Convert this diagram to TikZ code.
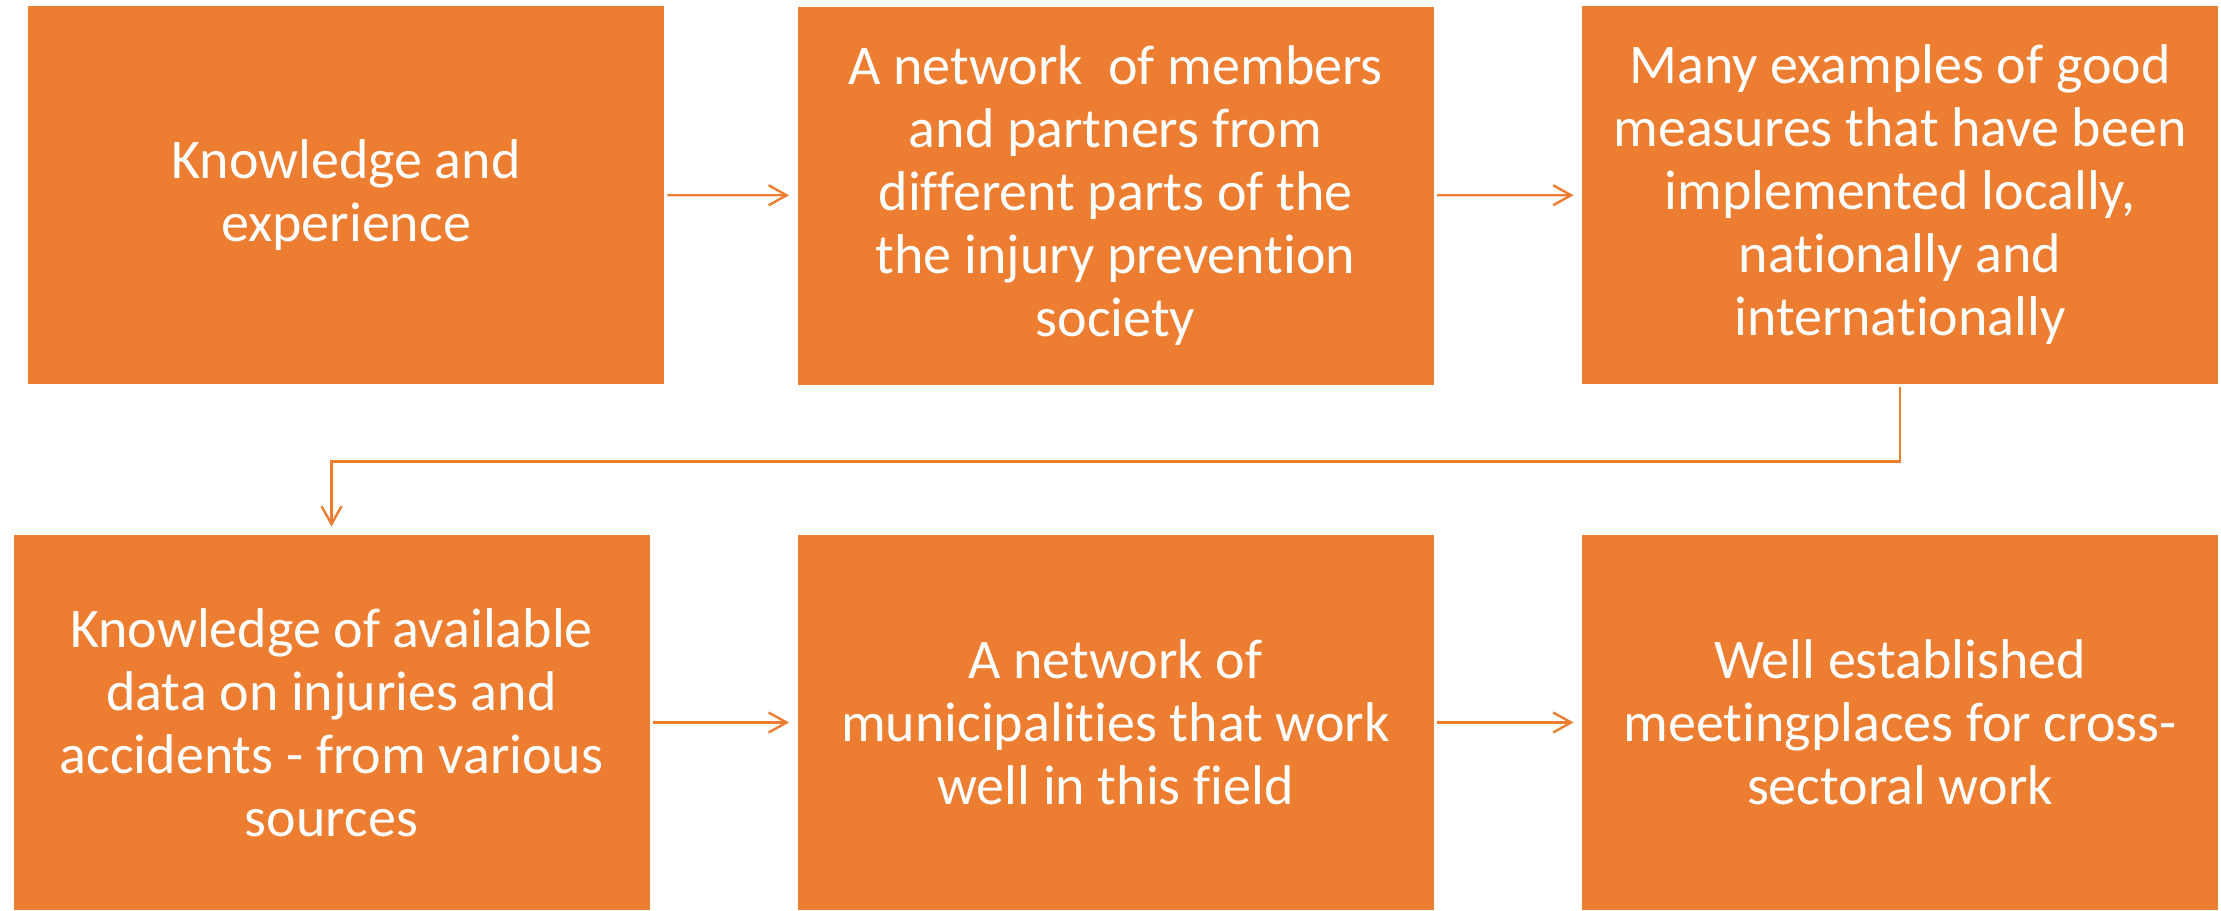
\documentclass[tikz,border=0pt]{standalone}
\usepackage{fontspec}
\setmainfont{Carlito}[Ligatures=NoCommon]
\usepackage{xcolor}
\usepackage{tikz}
\usetikzlibrary{arrows.meta,positioning}
\definecolor{accentorange}{HTML}{ED7D31}

\begin{document}
\begin{tikzpicture}[x=0.5pt,y=-0.5pt,>={Straight Barb[length=9pt,width=10pt]},
    stepbox/.style={fill=accentorange,text=white,align=center,inner sep=0pt,
      minimum width=318pt,minimum height=189pt,font=\fontsize{28pt}{31.5pt}\selectfont},
    link/.style={->,draw=accentorange,line width=1.2pt,shorten <=1.5pt,shorten >=4pt}]
        \useasboundingbox (0,0) rectangle (2221,910);
        \node[stepbox] (know) at (346,195) {Knowledge and\\experience};
        \node[stepbox] (members) at (1115.5,195.5) {A network\ \ of members\\and partners from\\different parts of the\\the injury prevention\\society};
        \node[stepbox] (examples) at (1900,195) {Many examples of good\\measures that have been\\implemented locally,\\nationally and\\internationally};
        \node[stepbox,minimum height=187.5pt] (data) at (331.5,722.5) {Knowledge of available\\data on injuries and\\accidents - from various\\sources};
        \node[stepbox,minimum height=187.5pt] (munic) at (1115.5,722.5) {A network of\\municipalities that work\\well in this field};
        \node[stepbox,minimum height=187.5pt] (meet) at (1900,722.5) {Well established\\meetingplaces for cross-\\sectoral work};
        \draw[link] (know) -- (members);
        \draw[link] (members) -- (examples);
        \draw[link] (examples.south) -- ++(0,77) -| (data.north);
        \draw[link] (data) -- (munic);
        \draw[link] (munic) -- (meet);
      \end{tikzpicture}
\end{document}
